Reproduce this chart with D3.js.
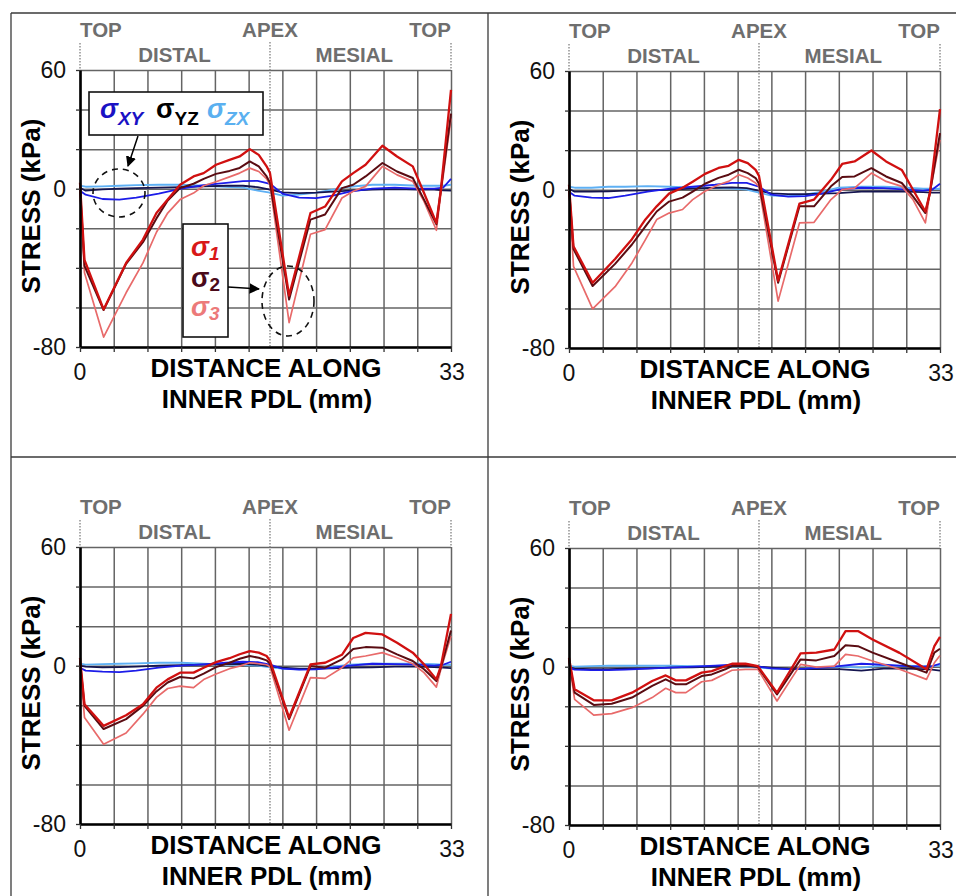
<!DOCTYPE html>
<html><head><meta charset="utf-8">
<script src="https://cdn.jsdelivr.net/npm/d3@7"></script>
<style>
body{margin:0;background:#fff}
svg{display:block}
text{font-family:"Liberation Sans",Arial,Helvetica,sans-serif}
</style>
</head><body>
<svg id="c" width="956" height="896"></svg>
<script>
// ---------- DATA ----------
// node positions (mm) for principal stresses
const principalX = [0, 0.4, 2.1, 4.1, 5.6, 6.8, 7.8, 8.9, 10.1, 11.0, 12.1, 13.3, 14.2, 15.1, 15.9, 16.6, 16.9, 18.6, 20.5, 21.8, 23.3, 24.3, 25.4, 26.9, 28.2, 29.6, 30.6, 31.7, 32.1, 33];
const p4X = [0, 0.5, 2.2, 3.8, 5.6, 7.4, 8.6, 9.5, 10.4, 11.8, 12.7, 13.9, 14.5, 15.7, 16.8, 18.5, 20.6, 22, 23.6, 24.6, 25.7, 27, 29.4, 31.8, 32.5, 33];
// node positions (mm) for shear stresses
const shearX = [0, 0.5, 2, 3.5, 5, 7, 9, 11, 13, 14.5, 15.8, 16.9, 18, 19.5, 21, 22.5, 24, 26, 28, 30, 31.5, 32.3, 33];

// panel 1 (top-left)
const p1S1 = [3, -36, -61, -37.5, -25.7, -12.3, -5.5, 2, 6.2, 7.9, 12.1, 14.6, 16.3, 20, 17.1, 11.3, 7.9, -54, -12.3, -9, 3.7, 7.9, 12.1, 21.7, 16.3, 11.3, -2.2, -17.3, -0.5, 50];
const p1S2 = [1, -39, -61.3, -38, -27, -15, -6, 0.3, 2.5, 5, 7.5, 9, 10.5, 13.8, 11.3, 6.2, 3, -56, -15.6, -13, 0.3, 2, 6.2, 13, 8.7, 5.4, -5.5, -18, -0.5, 38];
const p1S3 = [-1.3, -42.5, -75, -52.6, -37.5, -22, -12.3, -5.5, -2.2, 1.5, 3.5, 6, 7.9, 10.4, 8.7, 5, 2, -67.7, -23, -20.7, -4.7, -1.3, 1.2, 11.3, 7, 3.7, -6.4, -21, -2.2, 35.6];
const p1XY = [-1, -3, -5.2, -5.5, -4.5, -2.5, 0, 1.8, 3, 3.8, 4, 2.5, -2.5, -4.5, -4.8, -3.5, -1.5, 0, 0.5, 0, 0, 0.5, 5];
const p1YZ = [0.5, -1, -0.3, 0, 0.3, 0.5, 0.8, 1.2, 1.5, 1.5, 0.8, -0.5, -1.8, -2.2, -2, -1.5, -1, -0.5, -0.2, -0.5, -0.5, -0.8, -1];
const p1ZX = [1.5, 1, 1.2, 1.5, 1.8, 2, 2, 1.5, 1, 0.5, -1, -2, -3.5, -3, -2, -0.5, 1, 2, 2, 1.5, 1.5, 1.5, 2];

// panel 2 (top-right)
const p2S1 = [2.5, -28.6, -47, -35, -25, -15, -8.4, -2, 1, 4, 8, 11, 12.1, 15.1, 13.4, 10, 7, -46, -7, -5, 5, 13, 14.3, 19.8, 14.3, 10, 0, -11, -1.7, 40.7];
const p2S2 = [0.8, -30, -48.7, -37.5, -27.7, -18.5, -11, -6, -4, -1, 3, 6, 7.6, 10.1, 8.4, 5.9, 3, -47, -8.4, -8.4, 1.7, 6.4, 6.7, 10.9, 6.7, 3.4, -3.4, -11.8, -1.7, 28.6];
const p2S3 = [0, -38.7, -60.2, -49, -37, -25.2, -15.1, -11.8, -10, -5, -0.8, 2.5, 4.2, 7.6, 5.9, 3.4, 1.5, -56.3, -16.8, -16.5, -5, 0, 0.8, 8.4, 4.2, 1.7, -5, -16.8, -1.7, 25.2];
const p2XY = [-1, -3, -4, -4.2, -3, -1, 0.5, 1.5, 2.5, 3.5, 3.5, 1.5, -2.5, -3.5, -3.2, -2, 0, 1, 0.8, 0, -0.5, 0, 3];
const p2YZ = [0.5, -1, -1, -0.8, -0.5, -0.3, 0, 0.5, 1, 1.2, 0.8, -0.5, -1.8, -2.2, -2.2, -2, -1.7, -1, -0.8, -1, -1.2, -1.5, -1.5];
const p2ZX = [1.5, 1, 1, 1.5, 1.5, 1.8, 1.5, 1, 0.8, 0.5, 0, -1.5, -3, -3.2, -2.5, -1, 1, 1.5, 1.5, 1, 0.5, 0.5, 0.5];

// panel 3 (bottom-left)
const p3S1 = [4, -19.5, -30.4, -25, -19.5, -11.1, -6.9, -3.5, -3.5, -1, 1.8, 3.8, 5.8, 7.4, 6.6, 4.9, 2.4, -26.2, 0.7, 1.5, 5.5, 14, 16.6, 15.8, 11.6, 6.6, 0.7, -6.9, -0.2, 26.2];
const p3S2 = [2.4, -20.3, -32, -27, -20.3, -13, -8.5, -5.7, -6.4, -4, -0.7, 1.5, 3.5, 4.9, 4, 2.7, 1, -27, -0.2, -1, 3.2, 8.5, 9.4, 9.1, 5.7, 2.4, -1.8, -7.7, -1, 17.8];
const p3S3 = [0.7, -26.2, -39.7, -34, -24.5, -16, -11.5, -10.3, -11.1, -7, -4.2, -1.5, -0.2, 1.5, 1, 0.5, -0.5, -32.6, -6, -6.4, -1, 4, 4.9, 6.6, 4, 1, -3.5, -10.8, -1.8, 15];
const p3XY = [-1, -2.5, -3, -3.2, -2.5, -1, 0, 0.7, 1.5, 2, 1.8, 0.5, -1.5, -2, -1.8, -1, 0, 1, 0.8, 0.5, 0, 0.5, 2];
const p3YZ = [0, -0.5, -0.8, -0.7, -0.5, 0, 0.3, 0.5, 0.8, 1, 0.5, -0.3, -1, -1.5, -1.5, -1.3, -1, -0.8, -0.5, -0.5, -0.7, -1, -1.2];
const p3ZX = [1, 0.5, 0.8, 1, 1.2, 1.5, 1.5, 1, 0.5, 0.3, 0, -0.8, -1.5, -1.8, -1.5, -0.5, 0.5, 1, 1, 1, 0.8, 0.5, 0.5];

// panel 4 (bottom-right)
const p4S1 = [4.5, -11.4, -17, -17, -13.1, -7.2, -4.4, -6.9, -6.9, -3, -2.2, 0.3, 1.5, 1.5, 0.3, -13.1, 6.7, 7.1, 8.7, 18, 18, 13.8, 7, -1.3, 10.4, 15.1];
const p4S2 = [3.7, -13.1, -19.3, -18.7, -15.6, -9.7, -6.4, -8.9, -8.9, -4.7, -3.9, -1.3, 0.3, 0.7, -0.2, -14, 3.7, 3.2, 5.4, 10.8, 10.4, 7.1, 2, -3, 7.1, 9.1];
const p4S3 = [2.9, -16.5, -24.5, -23.7, -20.7, -15.6, -10.9, -13.1, -13.1, -7.6, -6.9, -3.5, -1.8, -1.3, -1.3, -17.3, 1.2, -0.2, 0.3, 6.2, 5.4, 2.9, -1.3, -6.4, 2, 5.7];
const p4XY = [-0.5, -1.5, -1.7, -1.7, -1.5, -1, -0.5, 0, 0.5, 1, 0.8, 0, -0.8, -1.2, -1, -0.5, 0.3, 1.5, 1, 0.3, 0, 0.3, 1.5];
const p4YZ = [-0.5, -1, -1.2, -1.2, -1, -0.8, -0.5, -0.3, 0, 0.3, 0.3, 0, -0.5, -1, -1.2, -1.2, -1.2, -2, -1, -1, -1.2, -1.5, -2];
const p4ZX = [0.5, 0, 0.3, 0.5, 0.5, 0.5, 0.5, 0.3, 0.3, 0, 0, -0.5, -1, -1.2, -1, -0.5, 0, -0.5, 0.5, 0.5, 0.3, 0.3, 0.5];

const yTickLabels = [60, 0, -80];
const xTickLabels = [0, 33];
const apexMM = 16.9;

// ---------- DRAW ----------
const svg = d3.select("#c");
svg.append("rect").attr("width", 956).attr("height", 896).attr("fill", "#fff");

const defs = svg.append("defs");
defs.append("marker").attr("id", "arr").attr("viewBox", "0 0 10 10")
  .attr("refX", 9).attr("refY", 5).attr("markerWidth", 7).attr("markerHeight", 7)
  .attr("orient", "auto-start-reverse")
  .append("path").attr("d", "M0,0 L10,5 L0,10 z").attr("fill", "#000");

// panel frame lines
[[11, 13, 956, 13], [11, 457, 956, 457], [11, 13, 11, 896], [488, 13, 488, 896]].forEach(l => {
  svg.append("line").attr("x1", l[0]).attr("y1", l[1]).attr("x2", l[2]).attr("y2", l[3])
    .attr("stroke", "#3a3a3a").attr("stroke-width", 1.3);
});

const W = 371, H = 277;
const panels = [
  {L: 80, T: 70, px: principalX, s1: p1S1, s2: p1S2, s3: p1S3, xy: p1XY, yz: p1YZ, zx: p1ZX},
  {L: 569, T: 71, px: principalX, s1: p2S1, s2: p2S2, s3: p2S3, xy: p2XY, yz: p2YZ, zx: p2ZX},
  {L: 80, T: 547, px: principalX, s1: p3S1, s2: p3S2, s3: p3S3, xy: p3XY, yz: p3YZ, zx: p3ZX},
  {L: 569, T: 548, px: p4X, s1: p4S1, s2: p4S2, s3: p4S3, xy: p4XY, yz: p4YZ, zx: p4ZX}
];

const colXY = "#1c1ce8", colYZ = "#15154f", colZX = "#5eb0f4";
const colS1 = "#d01010", colS2 = "#5a0c12", colS3 = "#e86a6a";
const gray = "#6e6e6e";
const gridCol = "#646464";

panels.forEach((p, idx) => {
  const x = d3.scaleLinear().domain([0, 33]).range([p.L, p.L + W]);
  const y = d3.scaleLinear().domain([-80, 60]).range([p.T + H, p.T]);
  const g = svg.append("g");

  // grid
  g.append("g").attr("transform", `translate(0,${p.T + H})`)
    .call(d3.axisBottom(x).tickValues(d3.range(0, 34, 3)).tickSize(H).tickSizeOuter(0).tickFormat(""))
    .call(s => { s.select(".domain").remove(); s.selectAll("line").attr("y2", -H).attr("stroke", gridCol).attr("stroke-width", 1.5); });
  g.append("g").attr("transform", `translate(${p.L},0)`)
    .call(d3.axisLeft(y).tickValues(d3.range(-80, 61, 20)).tickSize(-W).tickSizeOuter(0).tickFormat(""))
    .call(s => { s.select(".domain").remove(); s.selectAll("line").attr("stroke", gridCol).attr("stroke-width", 1.5); });

  // dotted marker lines
  const dot = (xx, y1, y2) => g.append("line").attr("x1", xx).attr("x2", xx).attr("y1", y1).attr("y2", y2)
    .attr("stroke", "#808080").attr("stroke-width", 1.3).attr("stroke-dasharray", "1.5,1.5");
  dot(x(0), p.T - 27, p.T);
  dot(x(33), p.T - 27, p.T);
  dot(x(apexMM), p.T - 28, p.T + H);

  // shear lines
  const shear = d3.line().x((d, i) => x(shearX[i])).y(d => y(d));
  [[p.zx, colZX], [p.yz, colYZ], [p.xy, colXY]].forEach(([arr, c]) => {
    g.append("path").attr("d", shear(arr)).attr("fill", "none").attr("stroke", c)
      .attr("stroke-width", 1.8).attr("stroke-linejoin", "round");
  });
  // principal lines
  const prin = d3.line().x((d, i) => x(p.px[i])).y(d => y(d));
  [[p.s3, colS3, 1.7], [p.s2, colS2, 2.0], [p.s1, colS1, 2.3]].forEach(([arr, c, w]) => {
    g.append("path").attr("d", prin(arr)).attr("fill", "none").attr("stroke", c)
      .attr("stroke-width", w).attr("stroke-linejoin", "round");
  });

  // axes
  g.append("g").attr("transform", `translate(${p.L},0)`)
    .call(d3.axisLeft(y).tickValues(d3.range(-80, 61, 20)).tickSize(4).tickSizeOuter(0).tickFormat(""))
    .call(s => { s.select(".domain").attr("stroke", "#000").attr("stroke-width", 2.6); s.selectAll(".tick line").attr("stroke", "#333").attr("stroke-width", 1.3); });
  g.append("g").attr("transform", `translate(0,${p.T + H})`)
    .call(d3.axisBottom(x).tickValues(d3.range(0, 34, 3)).tickSize(5).tickSizeOuter(0).tickFormat(""))
    .call(s => { s.select(".domain").attr("stroke", "#000").attr("stroke-width", 2.6); s.selectAll(".tick line").attr("stroke", "#333").attr("stroke-width", 1.3); });

  // tick labels
  yTickLabels.forEach(v => {
    g.append("text").attr("x", p.L - 14).attr("y", y(v) + 8).attr("text-anchor", "end")
      .attr("font-size", 23).attr("fill", "#111").text(v);
  });
  xTickLabels.forEach(v => {
    g.append("text").attr("x", x(v) + (v === 33 ? 1 : 0)).attr("y", p.T + H + 33).attr("text-anchor", "middle")
      .attr("font-size", 23).attr("fill", "#111").text(v);
  });

  // header labels
  const hdr = (t, xx, yy, anchor) => g.append("text").attr("x", xx).attr("y", yy).attr("text-anchor", anchor)
    .attr("font-size", 20.5).attr("font-weight", "bold").attr("fill", gray).text(t);
  hdr("TOP", x(0), p.T - 33, "start");
  hdr("APEX", x(apexMM), p.T - 33, "middle");
  hdr("TOP", x(33), p.T - 33, "end");
  hdr("DISTAL", x(8.4), p.T - 8, "middle");
  hdr("MESIAL", x(24.4), p.T - 8, "middle");

  // axis titles
  g.append("text").attr("transform", `translate(${p.L - 40},${p.T + 136}) rotate(-90)`)
    .attr("text-anchor", "middle").attr("font-size", 26).attr("font-weight", "bold").attr("fill", "#000")
    .text("STRESS (kPa)");
  g.append("text").attr("x", p.L + 186).attr("y", p.T + 307).attr("text-anchor", "middle")
    .attr("font-size", 26).attr("font-weight", "bold").attr("fill", "#000").text("DISTANCE ALONG");
  g.append("text").attr("x", p.L + 187).attr("y", p.T + 338).attr("text-anchor", "middle")
    .attr("font-size", 26).attr("font-weight", "bold").attr("fill", "#000").text("INNER PDL (mm)");
});

// ---------- annotations (panel 1) ----------
const ann = svg.append("g");
// shear legend box
ann.append("rect").attr("x", 89).attr("y", 92).attr("width", 174).attr("height", 43)
  .attr("fill", "#fff").attr("stroke", "#111").attr("stroke-width", 1.6);
const sig = (xx, yy, sub, color, italic) => {
  const t = ann.append("text").attr("x", xx).attr("y", yy).attr("fill", color)
    .attr("font-weight", "bold").attr("font-style", italic ? "italic" : "normal");
  t.append("tspan").attr("font-size", 27).text("σ");
  t.append("tspan").attr("font-size", 19).attr("dy", 7).text(sub);
};
sig(100, 118, "XY", "#1a12c4", true);
sig(156, 118, "YZ", "#000", false);
sig(207, 118, "ZX", "#5ab0f0", true);
ann.append("line").attr("x1", 138).attr("y1", 136).attr("x2", 128).attr("y2", 166)
  .attr("stroke", "#000").attr("stroke-width", 1.5).attr("marker-end", "url(#arr)");
ann.append("ellipse").attr("cx", 119).attr("cy", 193).attr("rx", 26).attr("ry", 24)
  .attr("fill", "none").attr("stroke", "#111").attr("stroke-width", 1.6).attr("stroke-dasharray", "6,5");

// principal legend box
ann.append("rect").attr("x", 183).attr("y", 224).attr("width", 45).attr("height", 113)
  .attr("fill", "#fff").attr("stroke", "#111").attr("stroke-width", 1.6);
const sig2 = (yy, sub, color, italic) => {
  const t = ann.append("text").attr("x", 191).attr("y", yy).attr("fill", color)
    .attr("font-weight", "bold").attr("font-style", italic ? "italic" : "normal");
  t.append("tspan").attr("font-size", 27).text("σ");
  t.append("tspan").attr("font-size", 19).attr("dy", 4).text(sub);
};
sig2(256, "1", "#d81818", true);
sig2(287, "2", "#4a0a1a", false);
sig2(316, "3", "#ec7a7a", true);
ann.append("line").attr("x1", 228).attr("y1", 287).attr("x2", 259).attr("y2", 289)
  .attr("stroke", "#000").attr("stroke-width", 1.5).attr("marker-end", "url(#arr)");
ann.append("ellipse").attr("cx", 288).attr("cy", 301).attr("rx", 26).attr("ry", 35)
  .attr("fill", "none").attr("stroke", "#111").attr("stroke-width", 1.6).attr("stroke-dasharray", "6,5");
</script>
</body></html>
